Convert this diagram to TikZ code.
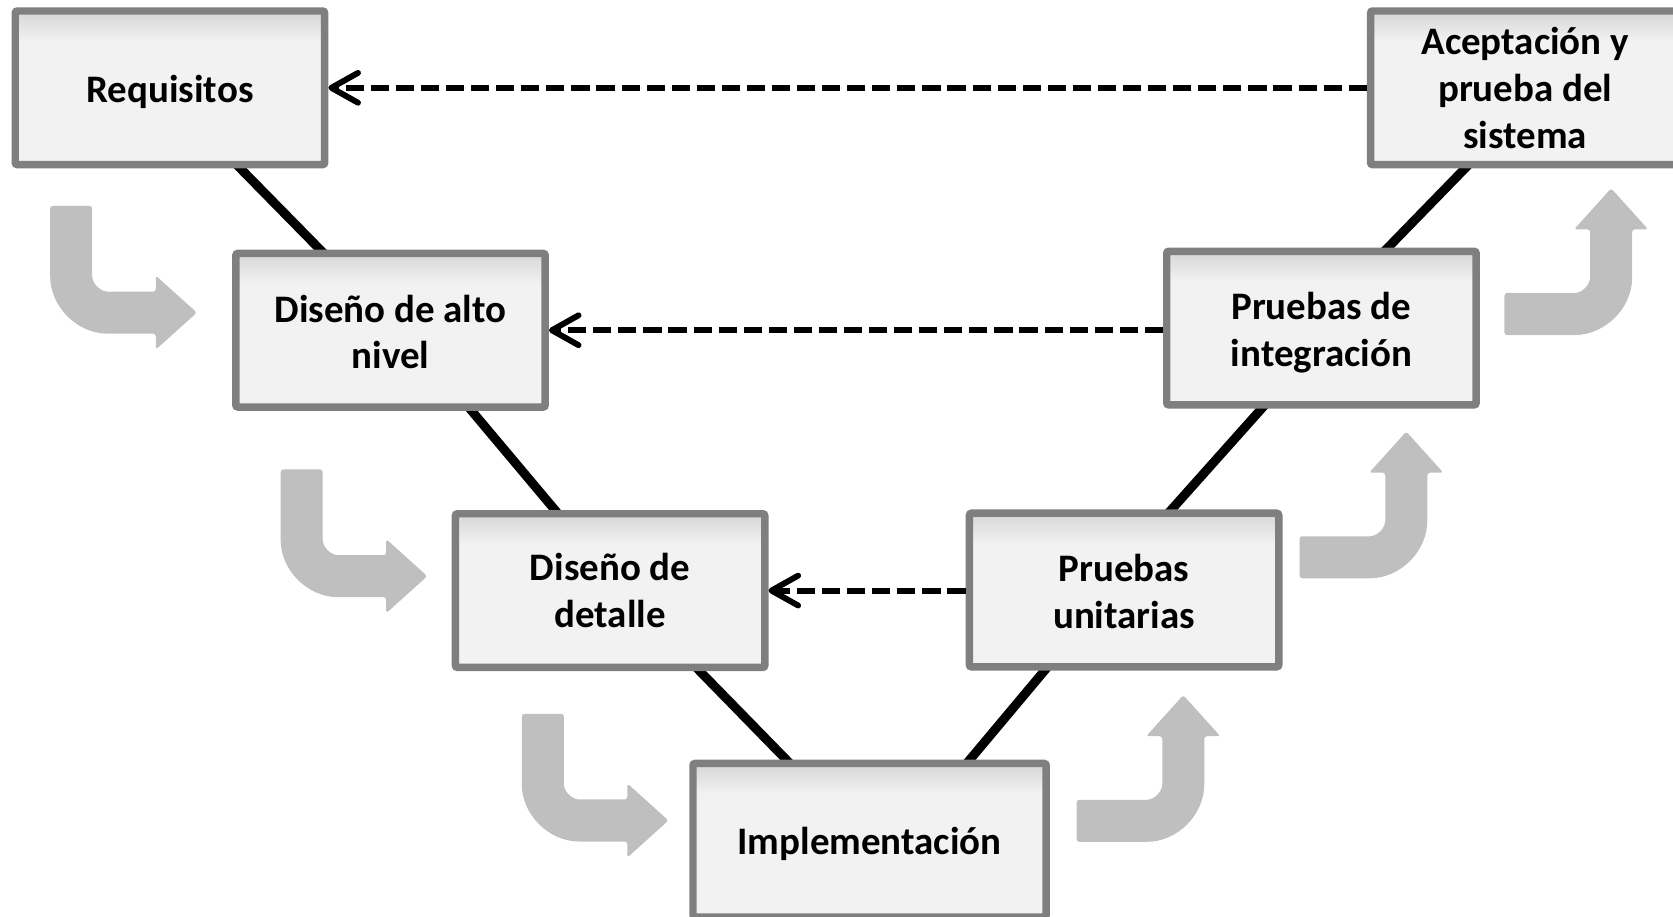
\documentclass[tikz,border=0pt]{standalone}
\usepackage{fontspec}
\setmainfont{Carlito}
\usetikzlibrary{arrows.meta,calc}
\definecolor{boxfill}{HTML}{F2F2F2}
\definecolor{boxtop}{HTML}{D6D6D6}
\definecolor{boxline}{HTML}{7F7F7F}
\definecolor{bentgray}{HTML}{BFBFBF}
\pgfdeclareverticalshading{boxshade}{100bp}{color(0bp)=(boxfill); color(25bp)=(boxfill); color(65bp)=(boxfill); color(75bp)=(boxtop); color(100bp)=(boxtop)}
\pgfdeclarelayer{background}
\pgfsetlayers{background,main}
% text block whose last baseline sits #1 above the box centre
\newcommand\stagetext[2]{\raisebox{#1}[0pt][0pt]{\begin{tabular}[b]{@{}c@{}}#2\end{tabular}}}
\tikzset{
  stage/.style={draw=boxline, line width=7pt, shading=boxshade, rounded corners=2pt,
    minimum width=290pt, minimum height=144pt, inner sep=0pt, align=center,
    font=\fontsize{36.5pt}{43.8pt}\selectfont\bfseries},
  vline/.style={line width=8.5pt, black, shorten <=-8pt, shorten >=-8pt},
  feedback/.style={line width=5.5pt, dash pattern=on 17pt off 6.5pt,
    -{Straight Barb[length=25pt,width=28pt,round]}},
  bentarrow/.pic={
    \fill[bentgray, rounded corners=2.5pt]
      (0,0) -- (39.4,0) -- (39.4,-63.3)
      arc[start angle=180, end angle=270, radius=17]
      -- (99,-80.3) -- (99,-65.3) -- (137.5,-100) -- (99,-134.7) -- (99,-119.7)
      -- (56.4,-119.7)
      arc[start angle=270, end angle=180, radius=56.4]
      -- cycle;
  }
}
\begin{document}
\begin{tikzpicture}[x=1pt,y=1pt]
\useasboundingbox (0,0) rectangle (1568,-859);
\clip (0,0) rectangle (1568,-859);

% stages
\node[stage] (req)   at (159.3,-82.3)  {\stagetext{-13.4pt}{Requisitos}};
\node[stage] (alto)  at (366,-309.5)   {\stagetext{-36.3pt}{Diseño de alto\\nivel}};
\node[stage] (det)   at (571.8,-553.5) {\stagetext{-34.5pt}{Diseño de\\detalle}};
\node[stage, minimum width=331pt] (impl) at (815,-787.5) {\stagetext{-13.6pt}{Implementación}};
\node[stage] (unit)  at (1053.5,-553)  {\stagetext{-36pt}{Pruebas\\unitarias}};
\node[stage] (integ) at (1238.5,-307.5){\stagetext{-36pt}{Pruebas de\\integración}};
\node[stage] (acep)  at (1429.5,-82.3) {\stagetext{-56.5pt}{\fontsize{36.5pt}{43pt}\selectfont Aceptación y\\prueba del\\sistema}};

% V connectors
\begin{pgfonlayer}{background}
\draw[vline] ($(req.south west)!0.722!(req.south east)$) -- ($(alto.north west)!0.278!(alto.north east)$);
\draw[vline] ($(alto.south west)!0.756!(alto.south east)$) -- ($(det.north west)!0.326!(det.north east)$);
\draw[vline] ($(det.south west)!0.783!(det.south east)$) -- ($(impl.north west)!0.269!(impl.north east)$);
\draw[vline] ($(impl.north west)!0.778!(impl.north east)$) -- ($(unit.south west)!0.249!(unit.south east)$);
\draw[vline] ($(unit.north west)!0.65!(unit.north east)$) -- ($(integ.south west)!0.311!(integ.south east)$);
\draw[vline] ($(integ.north west)!0.71!(integ.north east)$) -- ($(acep.south west)!0.31!(acep.south east)$);
\end{pgfonlayer}

% feedback arrows
\draw[feedback] (acep.west) -- (req.east);
\draw[feedback] (alto.east -| integ.west) -- (alto.east);
\draw[feedback] (det.east -| unit.west) -- (det.east);

% bent arrows, left side
\pic at (47,-193) {bentarrow};
\pic at (263,-440) {bentarrow};
\pic at (489,-669) {bentarrow};
% bent arrows, right side
\pic[rotate=90] at (1009,-789) {bentarrow};
\pic[rotate=90] at (1218,-542) {bentarrow};
\pic[rotate=90] at (1410,-314) {bentarrow};
\end{tikzpicture}
\end{document}
